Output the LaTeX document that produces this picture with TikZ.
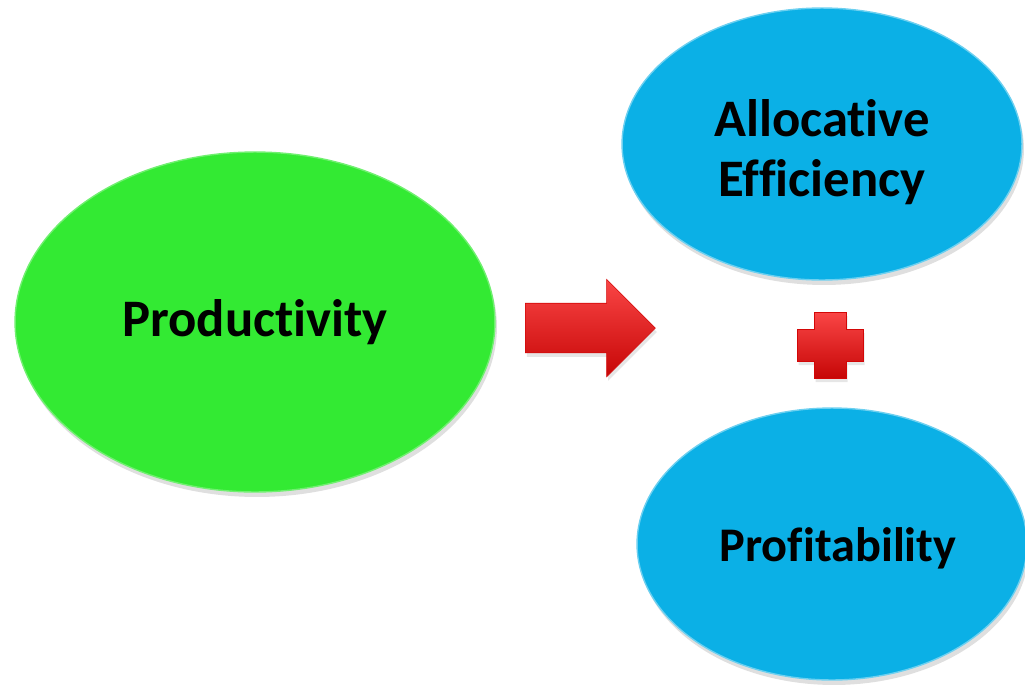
\documentclass[tikz,border=0pt]{standalone}
\usepackage{fontspec}
\setmainfont{Carlito}[RawFeature={-liga;-clig;-dlig}]
\usetikzlibrary{shapes.geometric, shapes.arrows, positioning, shadows}
\definecolor{prodgreen}{HTML}{33EA33}
\definecolor{resultblue}{HTML}{0BB0E6}
\definecolor{signred}{HTML}{F80808}

\begin{document}
\begin{tikzpicture}[x=0.02cm, y=-0.02cm]
\useasboundingbox (0,0) rectangle (1025,684);

\node[ellipse, minimum width=9.6cm, minimum height=6.8cm, draw=prodgreen!70!white, line width=0.8pt, fill=prodgreen, drop shadow={opacity=0.25, shadow xshift=0.04cm, shadow yshift=-0.1cm}] (prod) at (255,322) {};
\node[ellipse, minimum width=8cm, minimum height=5.44cm, draw=resultblue!60!white, line width=0.8pt, fill=resultblue, drop shadow={opacity=0.25, shadow xshift=0.04cm, shadow yshift=-0.1cm}] (alloc) at (822,144) {};
\node[ellipse, minimum width=7.8cm, minimum height=5.44cm, draw=resultblue!60!white, line width=0.8pt, fill=resultblue, drop shadow={opacity=0.25, shadow xshift=0.04cm, shadow yshift=-0.1cm}] (profit) at (832,544) {};

% Text positioned inside the ellipses
\node[font=\fontsize{30}{34}\selectfont\bfseries] at (prod.center) {Productivity};
\node[font=\fontsize{30}{34}\selectfont\bfseries, align=center] at ([yshift=-0.16cm]alloc.center) {Allocative\\Efficiency};
\node[font=\fontsize{27.5}{32}\selectfont\bfseries] at ([xshift=0.12cm, yshift=-0.08cm]profit.center) {Profitability};

% Red arrow and plus sign
\node[single arrow, inner sep=0pt, text height=0.49cm, text depth=0.49cm, minimum height=2.6cm, single arrow head extend=0.48cm, top color=signred!75!white, middle color=signred, bottom color=signred!80!black, draw=signred!85!black, line width=0.3pt, drop shadow={opacity=0.2, shadow xshift=0.03cm, shadow yshift=-0.08cm}] (arrow) at (578,328) {};

\coordinate (plus) at (830,345);
\fill[top color=signred!75!white, middle color=signred, bottom color=signred!80!black, draw=signred!85!black, line width=0.3pt, drop shadow={opacity=0.2, shadow xshift=0.03cm, shadow yshift=-0.08cm}]
  (plus) ++(-16,-33) -- ++(32,0) -- ++(0,17) -- ++(17,0) -- ++(0,32) -- ++(-17,0) -- ++(0,17) -- ++(-32,0) -- ++(0,-17) -- ++(-17,0) -- ++(0,-32) -- ++(17,0) -- cycle;
\end{tikzpicture}
\end{document}
